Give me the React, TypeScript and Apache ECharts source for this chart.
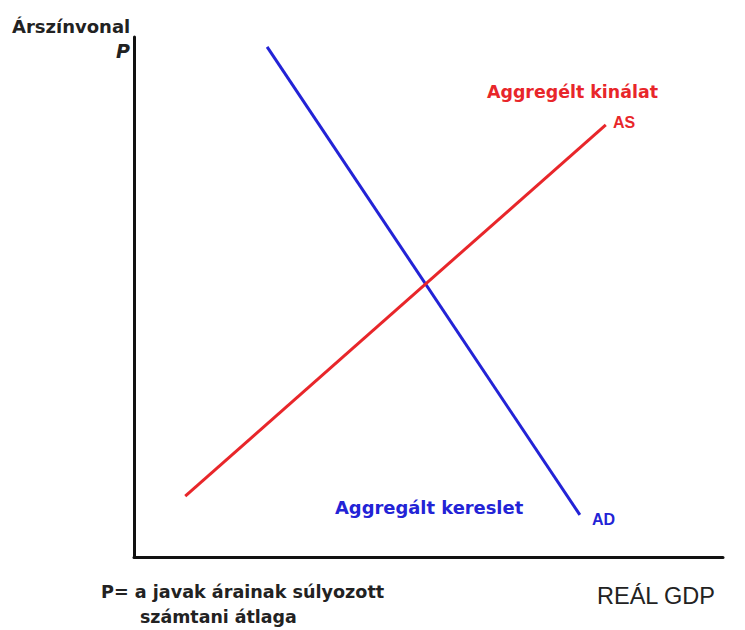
import React, { useEffect, useRef } from "react";
import * as echarts from "echarts";

const adX = [22.6, 75.7];
const adY = [98.1, 8.1];
const asX = [8.7, 80.1];
const asY = [11.7, 83.1];

const yAxisTitle = "Árszínvonal";
const yAxisSymbol = "P";
const xAxisTitle = "REÁL GDP";
const asTitle = "Aggregélt kinálat";
const asLabel = "AS";
const adTitle = "Aggregált kereslet";
const adLabel = "AD";
const noteLine1 = "P= a javak árainak súlyozott";
const noteLine2 = "számtani átlaga";

export default function App() {
  const ref = useRef<HTMLDivElement>(null);
  useEffect(() => {
    if (!ref.current) return;
    const chart = echarts.init(ref.current, null, { renderer: "svg" });
    const font = "DejaVu Sans";
    const txt = (x: number, y: number, text: string, f: string, fill: string) => ({
      type: "text",
      x,
      y,
      style: { text, font: f, fill, textVerticalAlign: "top", textAlign: "left" },
    });
    chart.setOption({
      animation: false,
      backgroundColor: "#ffffff",
      grid: { left: 134, top: 37, right: 22, bottom: 73 },
      xAxis: {
        type: "value",
        min: 0,
        max: 100,
        axisLine: { show: true, lineStyle: { color: "#111", width: 3 } },
        axisTick: { show: false },
        axisLabel: { show: false },
        splitLine: { show: false },
      },
      yAxis: {
        type: "value",
        min: 0,
        max: 100,
        axisLine: { show: true, lineStyle: { color: "#111", width: 3 } },
        axisTick: { show: false },
        axisLabel: { show: false },
        splitLine: { show: false },
      },
      series: [
        {
          type: "line",
          data: adX.map((x, i) => [x, adY[i]]),
          symbol: "none",
          lineStyle: { color: "#2323d6", width: 3 },
        },
        {
          type: "line",
          data: asX.map((x, i) => [x, asY[i]]),
          symbol: "none",
          lineStyle: { color: "#e8262a", width: 3 },
        },
      ],
      graphic: [
        txt(12, 17, yAxisTitle, `bold 18px '${font}'`, "#222"),
        txt(116, 41, yAxisSymbol, `italic bold 19px '${font}'`, "#222"),
        txt(487, 83, asTitle, `bold 17.4px '${font}'`, "#e8262a"),
        txt(613, 114, asLabel, `bold 16px 'Liberation Sans'`, "#e8262a"),
        txt(335, 498, adTitle, `bold 17.9px '${font}'`, "#2323d6"),
        txt(592, 511, adLabel, `bold 16px 'Liberation Sans'`, "#2323d6"),
        txt(101, 583, noteLine1, `bold 17.6px '${font}'`, "#222"),
        txt(140, 608, noteLine2, `bold 17.4px '${font}'`, "#222"),
        txt(597, 584, xAxisTitle, `23.5px 'Liberation Sans'`, "#222"),
      ],
    });
    return () => chart.dispose();
  }, []);
  return <div ref={ref} style={{ width: 745, height: 630, position: "absolute", left: 0, top: 0 }} />;
}
